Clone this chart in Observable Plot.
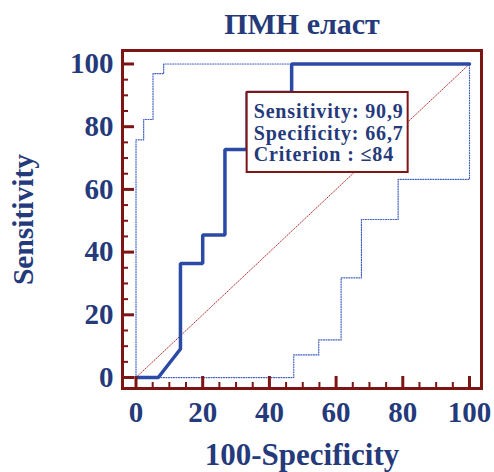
<!DOCTYPE html>
<html>
<head>
<meta charset="utf-8">
<script src="https://cdn.jsdelivr.net/npm/d3@7"></script>
<script src="https://cdn.jsdelivr.net/npm/@observablehq/plot@0.6"></script>
<style>
  html, body { margin: 0; padding: 0; background: #fff; }
  #chart { width: 494px; height: 472px; }
</style>
</head>
<body>
<div id="chart"></div>
<script>
// ROC curve (100-Specificity, Sensitivity)
const rocX = [0, 6.67, 13.33, 13.33, 20, 20, 26.67, 26.67, 33.33, 33.33, 46.67, 46.67, 100];
const rocY = [0, 0, 9.09, 36.36, 36.36, 45.45, 45.45, 72.73, 72.73, 90.91, 90.91, 100, 100];
// Upper confidence bound
const upX = [0, 0, 2.3, 2.3, 5.1, 5.1, 8.3, 8.3, 100];
const upY = [0, 75.8, 75.8, 82.3, 82.3, 96.9, 96.9, 100, 100];
// Lower confidence bound
const loX = [0, 47.3, 47.3, 54.8, 54.8, 61.5, 61.5, 67.6, 67.6, 78.6, 78.6, 100, 100];
const loY = [0, 0, 7.2, 7.2, 12.0, 12.0, 31.8, 31.8, 50.4, 50.4, 63.2, 63.2, 100];
// Reference diagonal
const diagX = [0, 100];
const diagY = [0, 100];
// Criterion point and annotation
const opX = 33.33, opY = 90.91;
const annotLines = ["Sensitivity: 90,9", "Specificity: 66,7", "Criterion : \u226484"];
const title = "ПМН еласт";
const xLabel = "100-Specificity";
const yLabel = "Sensitivity";
const majorTicks = [0, 20, 40, 60, 80, 100];
const minorTicks = [5, 10, 15, 25, 30, 35, 45, 50, 55, 65, 70, 75, 85, 90, 95];

const zip = (xs, ys) => xs.map((x, i) => ({x, y: ys[i]}));
const roc = zip(rocX, rocY), up = zip(upX, upY), lo = zip(loX, loY), diag = zip(diagX, diagY);

const navy = "#253a7a";
const maroon = "#7d1515";
const font = "'Liberation Serif', 'Times New Roman', serif";

const W = 494, H = 472, mT = 50, mL = 122, mR = 13, mB = 84;
const fw = W - mL - mR, fh = H - mT - mB;

const chart = Plot.plot({
  width: W,
  height: H,
  marginTop: mT,
  marginLeft: mL,
  marginRight: mR,
  marginBottom: mB,
  style: {fontFamily: font, fontWeight: "bold", color: navy, background: "#fff"},
  x: {domain: [-4.05, 103.6]},
  y: {domain: [-3.5, 104.3]},
  marks: [
    Plot.line(diag, {x: "x", y: "y", stroke: "#b8323a", strokeWidth: 1, strokeDasharray: "1,1.5"}),
    Plot.line(up, {x: "x", y: "y", stroke: "#3f5fbf", strokeWidth: 1.2, strokeDasharray: "1,1.5"}),
    Plot.line(lo, {x: "x", y: "y", stroke: "#3f5fbf", strokeWidth: 1.2, strokeDasharray: "1,1.5"}),
    Plot.line(roc, {x: "x", y: "y", stroke: "#2b4aa5", strokeWidth: 3.5, strokeLinejoin: "miter"}),
    Plot.rect([{x: opX, y: opY}], {x1: "x", x2: "x", y1: "y", y2: "y", insetRight: -161, insetBottom: -80, fill: "white", stroke: maroon, strokeWidth: 2}),
    Plot.text([annotLines.join("\n")], {x: opX, y: opY, text: d => d, textAnchor: "start", lineAnchor: "top", dx: 6.5, dy: 10.2, fontSize: 20, lineHeight: 1.085, fill: navy, fontWeight: "bold"}),
    Plot.tickX(minorTicks, {x: d => d, insetTop: fh - 6, stroke: maroon, strokeWidth: 2}),
    Plot.tickX(majorTicks, {x: d => d, insetTop: fh - 12, stroke: maroon, strokeWidth: 3}),
    Plot.tickY(minorTicks, {y: d => d, insetRight: fw - 6, stroke: maroon, strokeWidth: 2}),
    Plot.tickY(majorTicks, {y: d => d, insetRight: fw - 12, stroke: maroon, strokeWidth: 3}),
    Plot.frame({stroke: maroon, strokeWidth: 3}),
    Plot.axisX({ticks: majorTicks, tickSize: 0, tickPadding: 13, fontSize: 29, fill: navy, label: null}),
    Plot.axisY({ticks: majorTicks, tickSize: 0, tickPadding: 9, fontSize: 29, fill: navy, label: null}),
    Plot.text([xLabel], {frameAnchor: "bottom", lineAnchor: "bottom", dy: 76, fontSize: 31, fill: navy, fontWeight: "bold"}),
    Plot.text([yLabel], {frameAnchor: "left", rotate: -90, textAnchor: "middle", dx: -98.5, fontSize: 29.5, fill: navy, fontWeight: "bold"}),
    Plot.text([title], {frameAnchor: "top", lineAnchor: "bottom", dy: -17, fontSize: 30, fill: navy, fontWeight: "bold"})
  ]
});
// widen the annotation lettering like the reference
d3.select(chart).selectAll("text")
  .filter(function() { return this.textContent.startsWith("Sensitivity:"); })
  .style("letter-spacing", "0.85px");
document.getElementById("chart").appendChild(chart);
</script>
</body>
</html>
